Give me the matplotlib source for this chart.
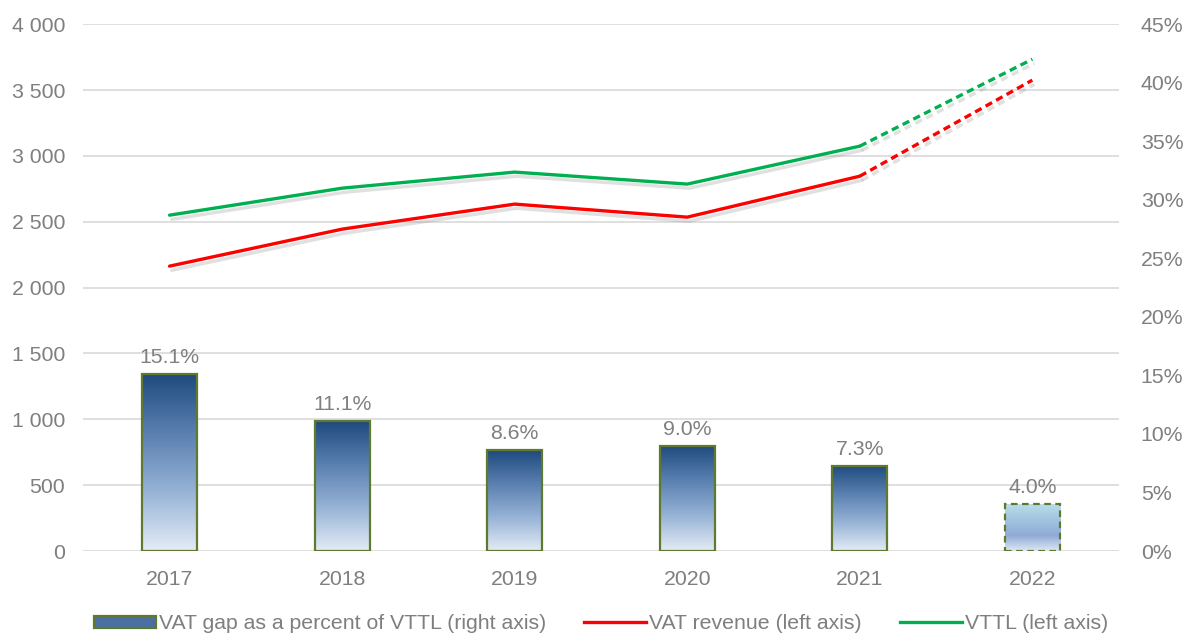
import matplotlib

matplotlib.use("Agg")
import matplotlib.pyplot as plt
import numpy as np
from matplotlib.colors import LinearSegmentedColormap
from matplotlib.lines import Line2D
from matplotlib.patches import Patch
import matplotlib.patheffects as pe

years = ["2017", "2018", "2019", "2020", "2021", "2022"]
gap_pct = [15.1, 11.1, 8.6, 9.0, 7.3, 4.0]
vat_revenue = [2163, 2444, 2634, 2535, 2846, 3575]
vttl = [2550, 2755, 2877, 2786, 3074, 3734]

GRAY = "#7f7f7f"
GRID = "#d9d9d9"
RED = "#ff0000"
GREEN = "#00b050"
EDGE = "#5f7a2e"
FS = 15.3

plt.rcParams["font.family"] = ["Liberation Sans", "DejaVu Sans"]

fig, ax = plt.subplots(figsize=(11.9, 6.37), dpi=100)
fig.subplots_adjust(left=0.07, right=0.94, top=0.962, bottom=0.135)
ax2 = ax.twinx()

# bars live on the right axis, lines on the left; draw lines on top
ax.set_zorder(ax2.get_zorder() + 1)
ax.patch.set_visible(False)

x = np.arange(len(years))
width = 0.32

solid_cmap = LinearSegmentedColormap.from_list("gap", ["#1f4a7e", "#5a80b0", "#97b3d6", "#e4ecf6"])
fcast_cmap = LinearSegmentedColormap.from_list("fc", ["#b8dde9", "#a3c4e0", "#8fabd6", "#dfe7f4"])
grad = np.linspace(0, 1, 256).reshape(-1, 1)

bars = ax2.bar(x, gap_pct, width, facecolor="none", edgecolor=EDGE, linewidth=1.6, zorder=3)
for i, b in enumerate(bars):
    cmap = solid_cmap if i < len(years) - 1 else fcast_cmap
    x0, y0 = b.get_x(), b.get_y()
    im = ax2.imshow(grad, cmap=cmap, aspect="auto", origin="upper",
                    extent=[x0, x0 + b.get_width(), y0, y0 + b.get_height()], zorder=2)
    im.set_clip_path(b)
    if i == len(years) - 1:
        b.set_linestyle((0, (3, 2)))
    ax2.text(x[i], gap_pct[i] + 0.6, f"{gap_pct[i]:.1f}%", ha="center", va="bottom",
             fontsize=FS, color=GRAY)

shadow = [pe.SimpleLineShadow(offset=(1.5, -3), shadow_color="#999999", alpha=0.3), pe.Normal()]
for series, color in [(vttl, GREEN), (vat_revenue, RED)]:
    ax.plot(x[:-1], series[:-1], color=color, lw=2.4, solid_capstyle="round",
            path_effects=shadow, zorder=5)
    ax.plot(x[-2:], series[-2:], color=color, lw=2.4, linestyle=(0, (2.2, 1.4)),
            path_effects=shadow, zorder=5)

ax.set_xlim(-0.5, len(years) - 0.5)
ax.set_ylim(0, 4000)
ax.set_yticks(np.arange(0, 4001, 500))
ax.set_yticklabels([f"{v:,}".replace(",", " ") for v in range(0, 4001, 500)])
ax2.set_ylim(0, 45)
ax2.set_yticks(np.arange(0, 46, 5))
ax2.set_yticklabels([f"{v}%" for v in range(0, 46, 5)])
ax.set_xticks(x)
ax.set_xticklabels(years)

for v in range(0, 4001, 500):
    ax2.axhline(v * 45 / 4000, color=GRID, lw=1.2, zorder=0)

for a in (ax, ax2):
    for s in a.spines.values():
        s.set_visible(False)
    a.tick_params(length=0, labelsize=FS, labelcolor=GRAY)
ax.tick_params(axis="y", pad=13)
ax2.tick_params(axis="y", pad=16)
ax.tick_params(axis="x", pad=14)

handles = [
    Patch(facecolor="#4a6fa0", edgecolor=EDGE, linewidth=1.6),
    Line2D([0], [0], color=RED, lw=2.4),
    Line2D([0], [0], color=GREEN, lw=2.4),
]
labels = ["VAT gap as a percent of VTTL (right axis)", "VAT revenue (left axis)", "VTTL (left axis)"]
fig.legend(handles, labels, loc="lower center", ncol=3, frameon=False, fontsize=FS,
           labelcolor=GRAY, bbox_to_anchor=(0.505, -0.024), columnspacing=1.8,
           handlelength=2.9, handletextpad=0.15, handleheight=0.5)

fig.savefig("out.png", dpi=100)
